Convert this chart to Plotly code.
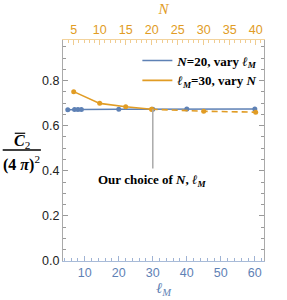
import plotly.graph_objects as go

# ---- data ----
lM_values = [5, 7, 8, 9, 20, 30, 40, 60]
c2_vary_lM = [0.671, 0.672, 0.672, 0.672, 0.673, 0.673, 0.674, 0.674]

N_values_solid = [5, 10, 15, 20]
c2_vary_N_solid = [0.751, 0.699, 0.684, 0.673]
N_values_dashed = [20, 30, 40]
c2_vary_N_dashed = [0.673, 0.664, 0.660]

bottom_ticks = [10, 20, 30, 40, 50, 60]
top_ticks = [5, 10, 15, 20, 25, 30, 35, 40]
y_ticks = [0.0, 0.2, 0.4, 0.6, 0.8]

choice_lM = 30
choice_label_y = 0.41

BLUE = "#5E81B5"
ORANGE = "#E19C24"
SERIF = "Liberation Serif, DejaVu Serif, serif"
SANS = "Liberation Sans, Arial, sans-serif"

fig = go.Figure()
fig.add_trace(go.Scatter(
    x=lM_values, y=c2_vary_lM, mode="lines+markers",
    line=dict(color=BLUE, width=1.6), marker=dict(color=BLUE, size=5),
    showlegend=False, xaxis="x", yaxis="y"))
fig.add_trace(go.Scatter(
    x=N_values_solid, y=c2_vary_N_solid, mode="lines+markers",
    line=dict(color=ORANGE, width=1.6), marker=dict(color=ORANGE, size=5),
    showlegend=False, xaxis="x2", yaxis="y"))
fig.add_trace(go.Scatter(
    x=N_values_dashed, y=c2_vary_N_dashed, mode="lines+markers",
    line=dict(color=ORANGE, width=1.6, dash="6px,4px"), marker=dict(color=ORANGE, size=5),
    showlegend=False, xaxis="x2", yaxis="y"))
# legend entries (lines only)
fig.add_trace(go.Scatter(x=[None], y=[None], mode="lines", line=dict(color=BLUE, width=1.6),
                         name="<b><i>N</i>=20, vary <i>ℓ</i><sub><i>M</i></sub></b>",
                         xaxis="x", yaxis="y"))
fig.add_trace(go.Scatter(x=[None], y=[None], mode="lines", line=dict(color=ORANGE, width=1.6),
                         name="<b><i>ℓ</i><sub><i>M</i></sub>=30, vary <i>N</i></b>",
                         xaxis="x", yaxis="y"))

choice_y = c2_vary_lM[lM_values.index(choice_lM)]
fig.add_shape(type="line", xref="x", yref="y", x0=choice_lM, x1=choice_lM,
              y0=choice_y, y1=choice_label_y, line=dict(color="#aaaaaa", width=1.5))

annos = [
    dict(x=choice_lM, y=choice_label_y, xref="x", yref="y", yanchor="top", yshift=-1,
         text="<b>Our choice of <i>N</i>, <i>ℓ</i><sub><i>M</i></sub></b>",
         font=dict(family=SERIF, size=13, color="black"), showarrow=False),
    dict(x=-0.205, y=0.54, xref="paper", yref="paper", xanchor="center", yanchor="middle",
         text="<b><i>C</i></b><sub>2</sub>", font=dict(family=SERIF, size=16, color="black"),
         showarrow=False),
    dict(x=-0.207, y=0.443, xref="paper", yref="paper", xanchor="center", yanchor="middle",
         text="<b>(4 <i>π</i>)</b><sup>2</sup>", font=dict(family=SERIF, size=16, color="black"),
         showarrow=False),
]
for a in annos:
    fig.add_annotation(**a)
fig.add_shape(type="line", xref="paper", yref="paper", x0=-0.30, x1=-0.11, y0=0.502, y1=0.502,
              line=dict(color="black", width=1.5))
fig.add_shape(type="line", xref="paper", yref="paper", x0=-0.24, x1=-0.188, y0=0.578, y1=0.578,
              line=dict(color="black", width=1.2))

fig.update_layout(
    template="none",
    width=287, height=300,
    margin=dict(l=63, r=23, t=40, b=39, autoexpand=False),
    paper_bgcolor="white", plot_bgcolor="white",
    showlegend=True,
    legend=dict(x=0.37, y=0.975, xanchor="left", yanchor="top",
                font=dict(family=SERIF, size=13, color="black"),
                bgcolor="rgba(0,0,0,0)", tracegroupgap=0, itemwidth=30),
    xaxis=dict(range=[3.6, 62.7], tickvals=bottom_ticks, ticks="inside", ticklen=5,
               tickcolor="#9fb3d4", linecolor="#a8bbd8", showline=True, showgrid=False,
               zeroline=False, automargin=False,
               tickfont=dict(family=SANS, size=12.5, color=BLUE),
               minor=dict(dtick=2, ticks="inside", ticklen=3, tickcolor="#9fb3d4", showgrid=False),
               title=dict(text="<i>ℓ</i><sub><i>M</i></sub>", standoff=2,
                          font=dict(family=SERIF, size=15, color=BLUE))),
    xaxis2=dict(range=[2.94, 41.6], tickvals=top_ticks, overlaying="x", side="top",
                ticks="inside", ticklen=5, tickcolor="#f0cc90", linecolor="#f3d39c",
                showline=True, showgrid=False, zeroline=False, automargin=False,
                tickfont=dict(family=SANS, size=12.5, color=ORANGE),
                minor=dict(dtick=1, ticks="inside", ticklen=3, tickcolor="#f0cc90", showgrid=False),
                title=dict(text="<i>N</i>", standoff=4,
                           font=dict(family=SERIF, size=15, color=ORANGE))),
    yaxis=dict(range=[0, 0.98], tickvals=y_ticks, tickformat=".1f", ticks="inside",
               ticklen=5, tickcolor="#999999", linecolor="#aaaaaa", showline=True,
               mirror="ticks", showgrid=False, zeroline=False, automargin=False,
               tickfont=dict(family=SANS, size=12.5, color="#222222"),
               minor=dict(dtick=0.05, ticks="inside", ticklen=3, tickcolor="#999999", showgrid=False)),
)

fig.write_html("out.html", config={"displayModeBar": False},
               post_script="document.body.style.margin='0px';document.body.style.padding='0px';")
